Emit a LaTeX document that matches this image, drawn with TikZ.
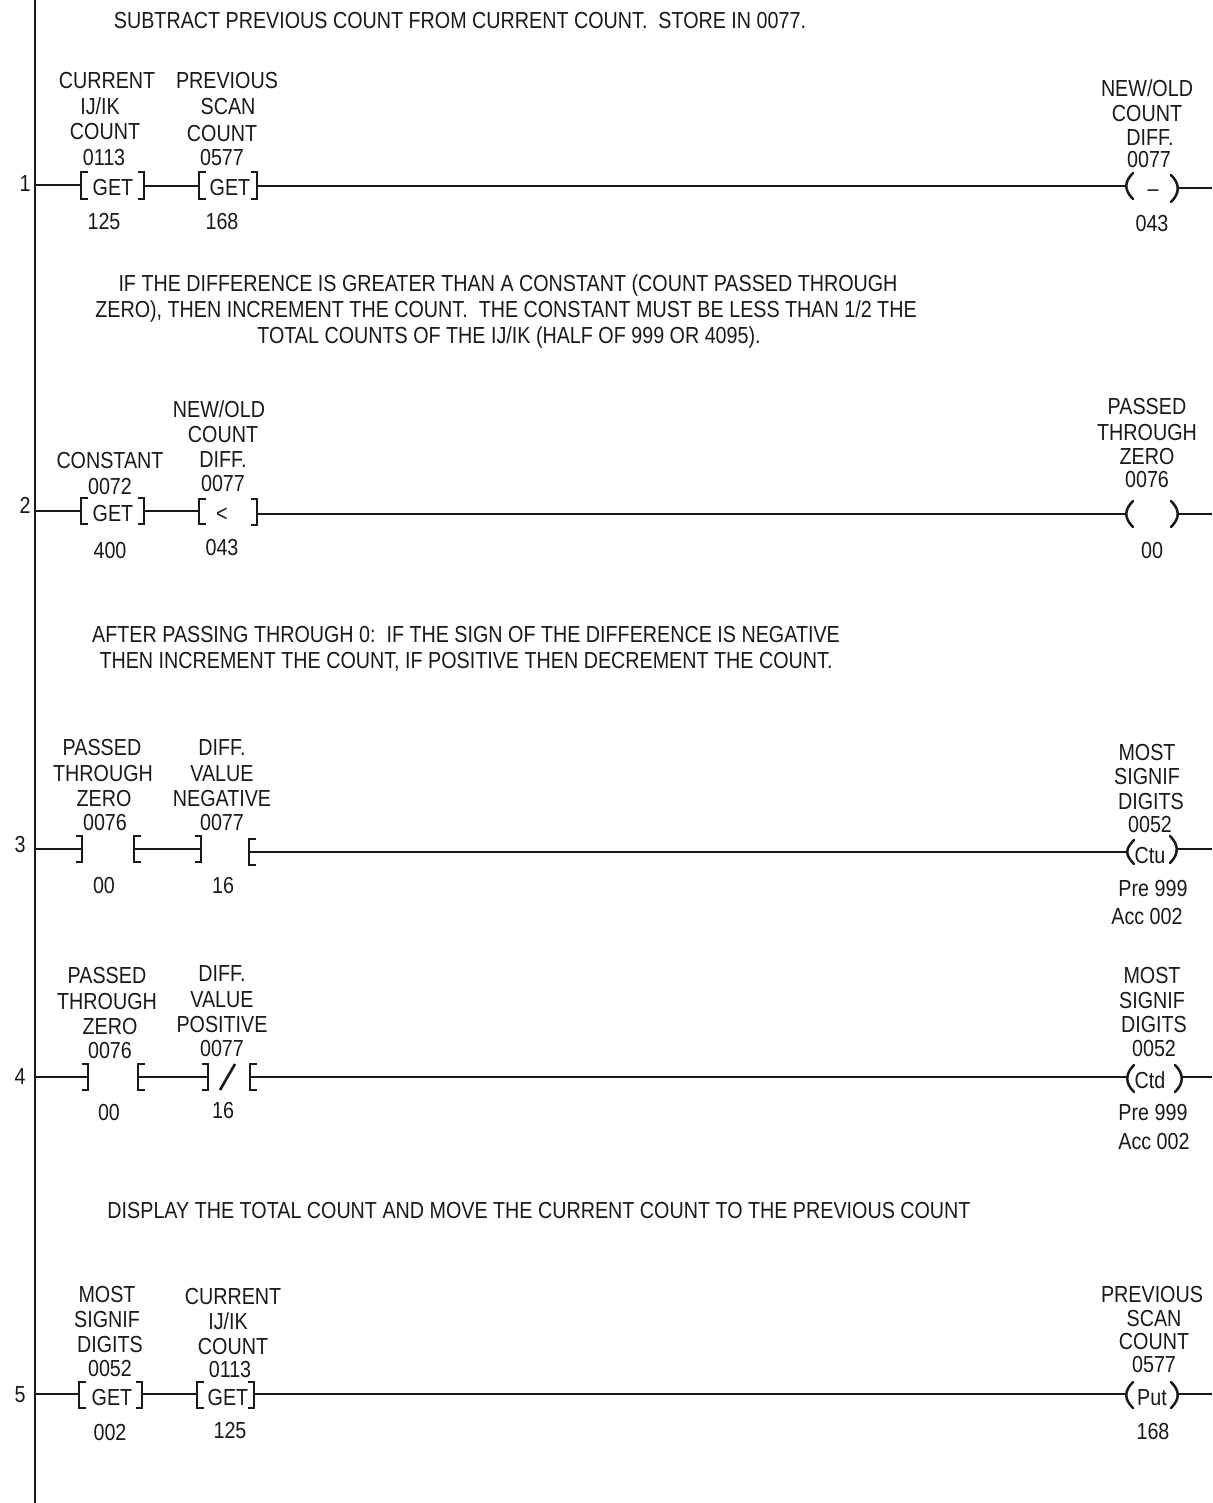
\documentclass[tikz,border=0pt]{standalone}
\usepackage{fontspec}
\setmainfont[FakeStretch=0.85]{Liberation Sans}
\definecolor{ink}{gray}{0.1}
\tikzset{
  lbl/.style={inner sep=0pt,text height=16pt,text depth=0pt,font=\fontsize{23.2}{23.2}\selectfont,text=ink},
  wire/.style={draw=ink,line width=2.5pt},
  railline/.style={draw=ink,line width=2.8pt},
  brk/.style={draw=ink,line width=2.6pt,line join=miter},
  prn/.style={draw=ink,line width=2.5pt,line cap=round},
}
% left bracket at x, y1..y2
\newcommand{\lbk}[3]{\draw[brk] (#1+6.5,#2) -- (#1,#2) -- (#1,#3) -- (#1+6.5,#3);}
\newcommand{\rbk}[3]{\draw[brk] (#1-6.5,#2) -- (#1,#2) -- (#1,#3) -- (#1-6.5,#3);}
\newcommand{\lpr}[3]{\draw[prn] (#1+7,#2) .. controls (#1-2,#2+9) and (#1-2,#3-9) .. (#1+7,#3);}
\newcommand{\rpr}[3]{\draw[prn] (#1-7,#2) .. controls (#1+2,#2+9) and (#1+2,#3-9) .. (#1-7,#3);}
\newcommand{\tx}[4]{\node[lbl] (#1) at (#2,#3) {#4};}
\begin{document}
\begin{tikzpicture}[x=1pt,y=-1pt]
\useasboundingbox (0,0) rectangle (1212,1503);
% rail
\coordinate (railtop) at (35,0);
\coordinate (railbot) at (35,1503);
\draw[railline] (railtop) -- (railbot);
% comments
\tx{c1}{460}{21}{SUBTRACT PREVIOUS COUNT FROM CURRENT COUNT.\ \ STORE IN 0077.}
\tx{c2a}{508}{283}{IF THE DIFFERENCE IS GREATER THAN A CONSTANT (COUNT PASSED THROUGH}
\tx{c2b}{506}{309}{ZERO), THEN INCREMENT THE COUNT.\ \ THE CONSTANT MUST BE LESS THAN 1/2 THE}
\tx{c2c}{509}{335}{TOTAL COUNTS OF THE IJ/IK (HALF OF 999 OR 4095).}
\tx{c3a}{466}{634}{AFTER PASSING THROUGH 0:\ \ IF THE SIGN OF THE DIFFERENCE IS NEGATIVE}
\tx{c3b}{466}{660}{THEN INCREMENT THE COUNT, IF POSITIVE THEN DECREMENT THE COUNT.}
\tx{c5}{539}{1210}{DISPLAY THE TOTAL COUNT AND MOVE THE CURRENT COUNT TO THE PREVIOUS COUNT}
% rung numbers
\tx{n1}{25}{184}{1}\tx{n2}{25}{505}{2}\tx{n3}{20}{844}{3}\tx{n4}{20}{1076}{4}\tx{n5}{20}{1394}{5}

% ---------- rung 1
\tx{a1}{107}{81}{CURRENT}\tx{a2}{100}{107}{IJ/IK}\tx{a3}{105}{132}{COUNT}\tx{a4}{104}{158}{0113}
\tx{a5}{113}{188}{GET}\tx{a6}{104}{222}{125}
\tx{b1}{227}{81}{PREVIOUS}\tx{b2}{228}{107}{SCAN}\tx{b3}{222}{134}{COUNT}\tx{b4}{222}{158}{0577}
\tx{b5}{230}{188}{GET}\tx{b6}{222}{222}{168}
\tx{d1}{1147}{89}{NEW/OLD}\tx{d2}{1147}{114}{COUNT}\tx{d3}{1150}{138}{DIFF.}\tx{d4}{1149}{160}{0077}
\tx{d5}{1153}{189}{--}\tx{d6}{1152}{224}{043}
\lbk{81}{172}{199}\rbk{144}{172}{199}\lbk{199}{172}{199}\rbk{257}{172}{199}
\lpr{1126}{173}{199}\rpr{1178}{175}{202}
\coordinate (r1s) at (35,185);\coordinate (r1a) at (81,185);
\coordinate (r1b) at (144,186);\coordinate (r1c) at (199,186);
\coordinate (r1d) at (257,186);\coordinate (r1e) at (1125,186);
\coordinate (r1f) at (1178,188);\coordinate (r1g) at (1212,188);
\draw[wire] (r1s) -- (r1a);\draw[wire] (r1b) -- (r1c);\draw[wire] (r1d) -- (r1e);\draw[wire] (r1f) -- (r1g);

% ---------- rung 2
\tx{e1}{110}{460}{CONSTANT}\tx{e2}{110}{486}{0072}\tx{e3}{113}{513}{GET}\tx{e4}{110}{550}{400}
\tx{f1}{219}{409}{NEW/OLD}\tx{f2}{223}{434}{COUNT}\tx{f3}{223}{459}{DIFF.}\tx{f4}{223}{483}{0077}
\tx{f5}{222}{513}{<}\tx{f6}{222}{547}{043}
\tx{g1}{1147}{406}{PASSED}\tx{g2}{1147}{432}{THROUGH}\tx{g3}{1147}{456}{ZERO}\tx{g4}{1147}{479}{0076}\tx{g5}{1152}{550}{00}
\lbk{81}{498}{524}\rbk{144}{498}{524}\lbk{199}{499}{524}\rbk{257}{499}{525}
\lpr{1126}{501}{527}\rpr{1178}{501}{527}
\coordinate (r2s) at (35,511);\coordinate (r2a) at (81,511);
\coordinate (r2b) at (144,511);\coordinate (r2c) at (199,511);
\coordinate (r2d) at (257,514);\coordinate (r2e) at (1125,514);
\coordinate (r2f) at (1178,514);\coordinate (r2g) at (1212,514);
\draw[wire] (r2s) -- (r2a);\draw[wire] (r2b) -- (r2c);\draw[wire] (r2d) -- (r2e);\draw[wire] (r2f) -- (r2g);

% ---------- rung 3
\tx{h1}{102}{747}{PASSED}\tx{h2}{103}{773}{THROUGH}\tx{h3}{104}{798}{ZERO}\tx{h4}{105}{822}{0076}\tx{h5}{104}{885}{00}
\tx{i1}{222}{747}{DIFF.}\tx{i2}{222}{773}{VALUE}\tx{i3}{222}{798}{NEGATIVE}\tx{i4}{222}{822}{0077}\tx{i5}{223}{885}{16}
\tx{j1}{1147}{752}{MOST}\tx{j2}{1147}{776}{SIGNIF}\tx{j3}{1151}{801}{DIGITS}\tx{j4}{1150}{824}{0052}
\tx{j5}{1150}{855}{Ctu}\tx{j6}{1153}{888}{Pre 999}\tx{j7}{1147}{916}{Acc 002}
\rbk{82}{836}{862}\lbk{134}{836}{862}\rbk{201}{836}{862}\lbk{249}{839}{865}
\lpr{1127}{840}{864}\rpr{1177}{836}{863}
\coordinate (r3s) at (35,849);\coordinate (r3a) at (82,849);
\coordinate (r3b) at (134,849);\coordinate (r3c) at (201,849);
\coordinate (r3d) at (249,852);\coordinate (r3e) at (1126,852);
\coordinate (r3f) at (1177,849);\coordinate (r3g) at (1212,849);
\draw[wire] (r3s) -- (r3a);\draw[wire] (r3b) -- (r3c);\draw[wire] (r3d) -- (r3e);\draw[wire] (r3f) -- (r3g);

% ---------- rung 4
\tx{k1}{107}{975}{PASSED}\tx{k2}{107}{1001}{THROUGH}\tx{k3}{110}{1026}{ZERO}\tx{k4}{110}{1050}{0076}\tx{k5}{109}{1112}{00}
\tx{l1}{222}{973}{DIFF.}\tx{l2}{222}{999}{VALUE}\tx{l3}{222}{1024}{POSITIVE}\tx{l4}{222}{1048}{0077}\tx{l5}{223}{1110}{16}
\tx{m1}{1152}{975}{MOST}\tx{m2}{1152}{1000}{SIGNIF}\tx{m3}{1154}{1024}{DIGITS}\tx{m4}{1154}{1048}{0052}
\tx{m5}{1150}{1080}{Ctd}\tx{m6}{1153}{1112}{Pre 999}\tx{m7}{1154}{1141}{Acc 002}
\rbk{88}{1064}{1090}\lbk{138}{1064}{1090}\rbk{208}{1064}{1090}\lbk{250}{1064}{1090}
\draw[brk] (220,1090) -- (235,1064);
\lpr{1127}{1065}{1092}\rpr{1182}{1065}{1092}
\coordinate (r4s) at (35,1077);\coordinate (r4a) at (88,1077);
\coordinate (r4b) at (138,1077);\coordinate (r4c) at (208,1077);
\coordinate (r4d) at (250,1077);\coordinate (r4e) at (1127,1077);
\coordinate (r4f) at (1182,1077);\coordinate (r4g) at (1212,1077);
\draw[wire] (r4s) -- (r4a);\draw[wire] (r4b) -- (r4c);\draw[wire] (r4d) -- (r4e);\draw[wire] (r4f) -- (r4g);

% ---------- rung 5
\tx{o1}{107}{1294}{MOST}\tx{o2}{107}{1319}{SIGNIF}\tx{o3}{110}{1344}{DIGITS}\tx{o4}{110}{1368}{0052}\tx{o5}{112}{1397}{GET}\tx{o6}{110}{1432}{002}
\tx{p1}{233}{1296}{CURRENT}\tx{p2}{228}{1321}{IJ/IK}\tx{p3}{233}{1346}{COUNT}\tx{p4}{230}{1369}{0113}\tx{p5}{228}{1397}{GET}\tx{p6}{230}{1430}{125}
\tx{q1}{1152}{1294}{PREVIOUS}\tx{q2}{1154}{1318}{SCAN}\tx{q3}{1154}{1341}{COUNT}\tx{q4}{1154}{1364}{0577}\tx{q5}{1152}{1397}{Put}\tx{q6}{1153}{1431}{168}
\lbk{79}{1382}{1408}\rbk{142}{1382}{1408}\lbk{197}{1382}{1408}\rbk{254}{1382}{1408}
\lpr{1126}{1382}{1408}\rpr{1178}{1382}{1408}
\coordinate (r5s) at (35,1394);\coordinate (r5a) at (79,1394);
\coordinate (r5b) at (142,1394);\coordinate (r5c) at (197,1394);
\coordinate (r5d) at (254,1394);\coordinate (r5e) at (1126,1394);
\coordinate (r5f) at (1178,1394);\coordinate (r5g) at (1212,1394);
\draw[wire] (r5s) -- (r5a);\draw[wire] (r5b) -- (r5c);\draw[wire] (r5d) -- (r5e);\draw[wire] (r5f) -- (r5g);
\end{tikzpicture}
\end{document}
